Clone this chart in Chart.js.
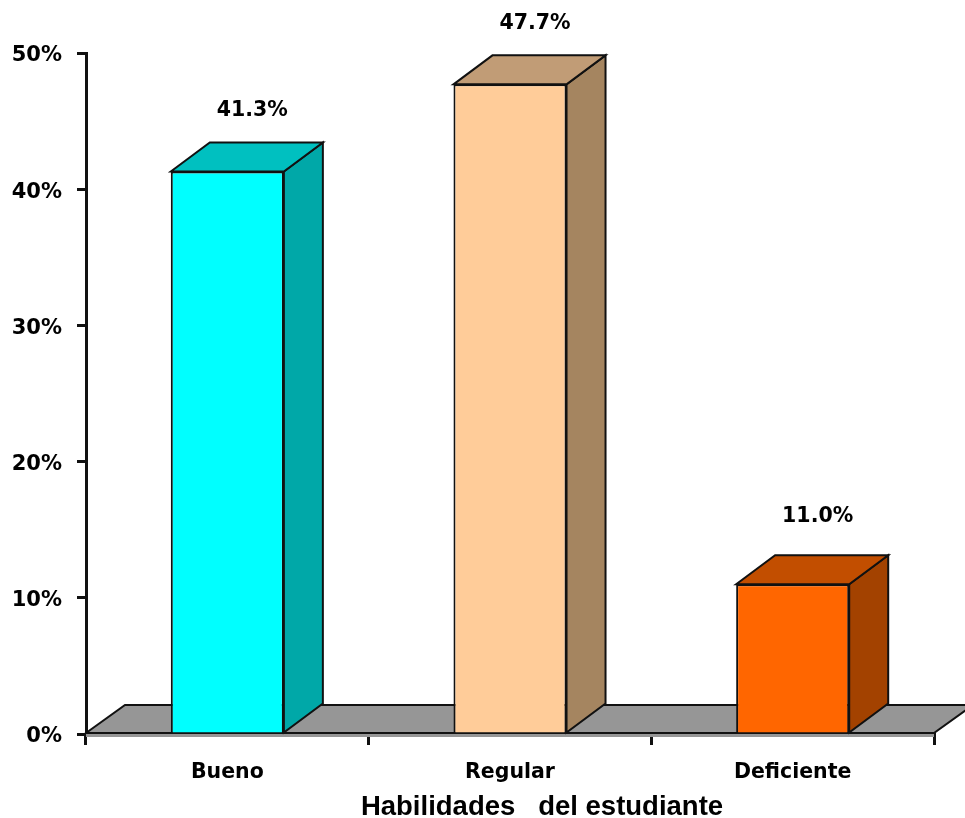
<!DOCTYPE html>
<html>
<head>
<meta charset="utf-8">
<title>Habilidades del estudiante</title>
<script src="https://cdn.jsdelivr.net/npm/chart.js@4/dist/chart.umd.min.js"></script>
<style>
  html, body { margin: 0; padding: 0; background: #fff; }
  canvas { display: block; }
</style>
</head>
<body>
<canvas id="myChart" width="965" height="818"></canvas>
<script>
const categories = ["Bueno", "Regular", "Deficiente"];
const percentages = [41.3, 47.7, 11.0];
const axisTitle = "Habilidades   del estudiante";
const yMax = 50;
const yStep = 10;

const frontColors = ["#00ffff", "#ffcc99", "#ff6600"];
const topColors = ["#00c0c0", "#c19c76", "#c24e00"];
const sideColors = ["#00a8a8", "#a58560", "#a34200"];
const labelLift = [61, 61, 68];

const depthX = 39;
const depthY = 29;
const fontName = "'DejaVu Sans', sans-serif";

function face(ctx, pts, fill) {
  ctx.beginPath();
  ctx.moveTo(pts[0][0], pts[0][1]);
  for (let i = 1; i < pts.length; i++) ctx.lineTo(pts[i][0], pts[i][1]);
  ctx.closePath();
  ctx.fillStyle = fill;
  ctx.fill();
  ctx.lineWidth = 2;
  ctx.strokeStyle = "#111";
  ctx.stroke();
}

// floor of the 3d box, sits behind the bars
const floorPlugin = {
  id: "floor",
  beforeDatasetsDraw(chart) {
    const { ctx, chartArea: a } = chart;
    const base = chart.scales.y.getPixelForValue(0);
    ctx.save();
    ctx.fillStyle = "#969696";
    ctx.fillRect(a.left, base, a.right - a.left, 3);
    face(ctx, [
      [a.left, base - 1],
      [a.left + depthX, base - depthY],
      [a.right + depthX, base - depthY],
      [a.right, base - 1]
    ], "#969696");
    ctx.restore();
  }
};

// top and side faces, value labels, and the axis title (it sits off centre in the original)
const boxPlugin = {
  id: "box",
  afterDatasetsDraw(chart) {
    const { ctx } = chart;
    const bars = chart.getDatasetMeta(0).data;
    ctx.save();
    bars.forEach((bar, i) => {
      const l = bar.x - bar.width / 2;
      const r = bar.x + bar.width / 2;
      face(ctx, [[r, bar.y], [r + depthX, bar.y - depthY], [r + depthX, bar.base - depthY], [r, bar.base]], sideColors[i]);
      face(ctx, [[l, bar.y], [l + depthX, bar.y - depthY], [r + depthX, bar.y - depthY], [r, bar.y]], topColors[i]);

      ctx.fillStyle = "#000";
      ctx.font = "bold 20.5px " + fontName;
      ctx.textAlign = "center";
      ctx.textBaseline = "middle";
      ctx.fillText(percentages[i].toFixed(1) + "%", bar.x + 25, bar.y - labelLift[i]);
    });
    ctx.font = "bold 27.5px 'Liberation Sans', sans-serif";
    ctx.fillText(axisTitle, 542, 807);
    ctx.restore();
  }
};

new Chart("myChart", {
  type: "bar",
  data: {
    labels: categories,
    datasets: [
      {
        data: percentages,
        backgroundColor: frontColors,
        borderColor: "#111",
        borderWidth: 2,
        barPercentage: 0.4,
        categoryPercentage: 1
      }
    ]
  },
  options: {
    responsive: false,
    animation: false,
    layout: { padding: { top: 53, right: 31, left: 0, bottom: 0 } },
    plugins: {
      legend: { display: false },
      title: { display: false },
      tooltip: { enabled: false }
    },
    scales: {
      x: {
        afterFit(scale) { scale.height = 84; },
        border: { color: "#111", width: 2 },
        grid: { drawOnChartArea: false, drawTicks: true, tickLength: 11, color: "#111", lineWidth: 3 },
        ticks: { color: "#000", padding: 15, maxRotation: 0, font: { family: fontName, size: 20.5, weight: "bold" } }
      },
      y: {
        min: 0,
        max: yMax,
        afterFit(scale) { scale.width = 86; },
        border: { color: "#111", width: 3 },
        grid: { drawOnChartArea: false, drawTicks: true, tickLength: 9, color: "#111", lineWidth: 3 },
        ticks: {
          stepSize: yStep,
          color: "#000",
          padding: 15,
          labelOffset: 3,
          font: { family: fontName, size: 21, weight: "bold" },
          callback: (v) => v + "%"
        }
      }
    }
  },
  plugins: [floorPlugin, boxPlugin]
});
</script>
</body>
</html>
